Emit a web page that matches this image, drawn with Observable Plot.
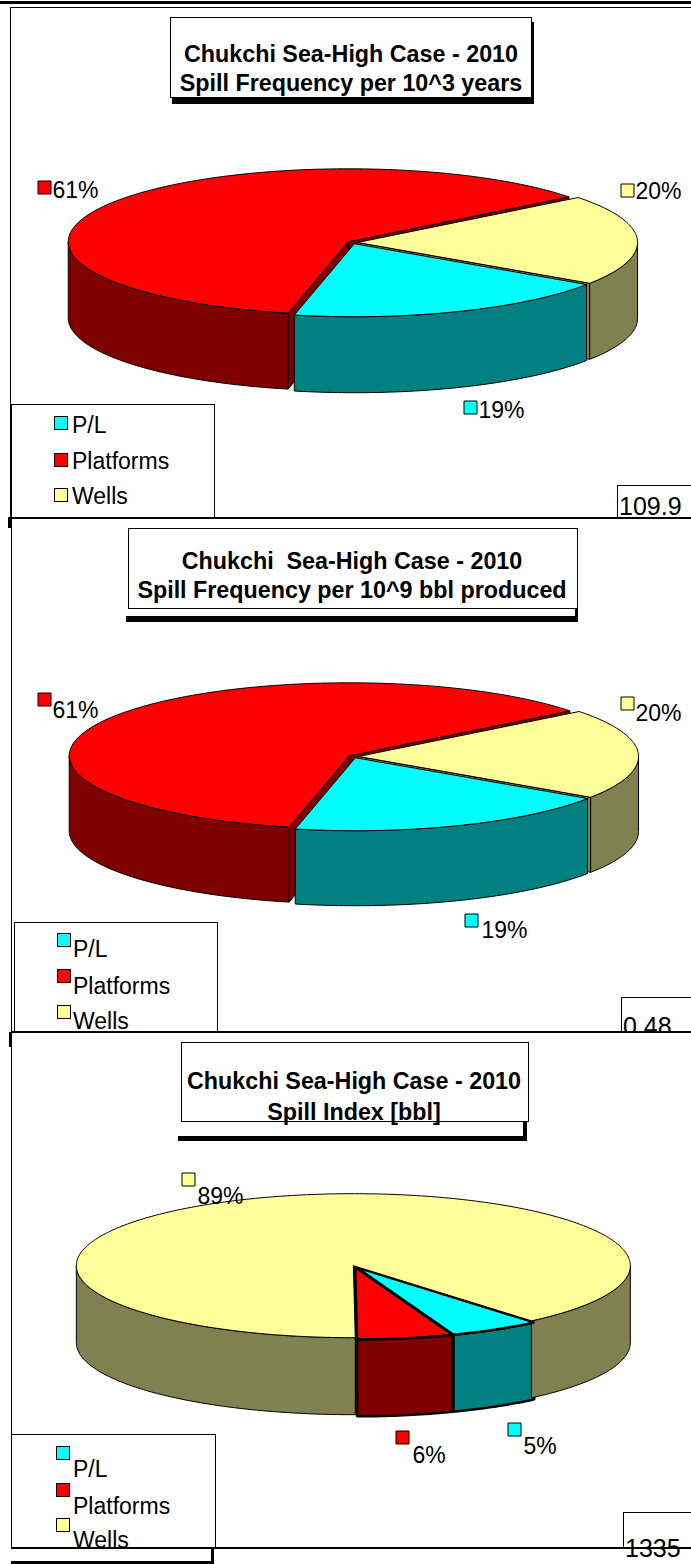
<!DOCTYPE html>
<html><head><meta charset="utf-8">
<script src="https://cdn.jsdelivr.net/npm/d3@7"></script>
<script src="https://cdn.jsdelivr.net/npm/@observablehq/plot@0.6"></script>
<style>
html,body{margin:0;padding:0;background:#fff}
#root{position:relative;width:691px;height:1564px;overflow:hidden;background:#fff}
.layer{position:absolute;left:0;}
</style>
</head><body><div id="root"></div>
<script>
// ---------------- DATA ----------------
const categories = ["P/L", "Platforms", "Wells"];
const freqPerYearsPct = [19, 61, 20];      // Spill frequency per 10^3 years (share %)
const freqPerBblPct = [19, 61, 20];        // Spill frequency per 10^9 bbl produced (share %)
const spillIndexPct = [5.4, 5.6, 89.0];    // Spill index [bbl] (share %)
const titleLines1 = ["Chukchi Sea-High Case - 2010", "Spill Frequency per 10^3 years"];
const titleLines2 = ["Chukchi  Sea-High Case - 2010", "Spill Frequency per 10^9 bbl produced"];
const titleLines3 = ["Chukchi Sea-High Case - 2010", "Spill Index [bbl]"];
const totals = ["109.9", "0.48", "1335"];

// ---------------- STYLE ----------------
const topColors = ["#00FFFF", "#FF0000", "#FFFF99"];
const sideColors = ["#008080", "#800000", "#808050"];
const FONT = "'Liberation Sans', Arial, Helvetica, sans-serif";

// ---------------- LAYOUT ----------------
const panels = [
  {
    values: freqPerYearsPct, title: titleLines1, total: totals[0], top: 0, height: 518,
    pie: {cx: 352, cy: 242, rx: 280, ry: 73, depth: 76, start: 124, explode: 0.018, sw: [1, 1, 1]},
    labels: [{mx: 463, my: 400, tx: 478, ty: 417}, {mx: 37, my: 180, tx: 52, ty: 197}, {mx: 620, my: 183, tx: 635, ty: 198}],
    titleBox: {x: 170, y: 17, w: 361, h: 80, cx: 351, base: [62, 91],
      shadow: [[172, 22, 362, 82]]},
    legend: {x: 11, y: 404, w: 203, h: 114, mx: 54, my: [416, 453, 488], tx: 72, ty: [433, 469, 504]},
    valueBox: {x: 617, y: 485, w: 90, h: 33, tx: 619, ty: 515},
    lines: [[0, 1, 691, 3], [10, 7, 681, 1], [10, 7, 1, 511], [10, 517, 681, 2], [8, 517, 3, 11]]
  },
  {
    values: freqPerBblPct, title: titleLines2, total: totals[1], top: 518, height: 515,
    pie: {cx: 353, cy: 756, rx: 280, ry: 73, depth: 75, start: 124, explode: 0.018, sw: [1, 1, 1]},
    labels: [{mx: 464, my: 913, tx: 481, ty: 937}, {mx: 37, my: 692, tx: 52, ty: 717}, {mx: 620, my: 696, tx: 635, ty: 720}],
    titleBox: {x: 128, y: 528, w: 449, h: 80, cx: 352, base: [569, 598],
      shadow: [[126, 616, 452, 6], [575, 608, 3, 14]]},
    legend: {x: 14, y: 922, w: 203, h: 110, mx: 57, my: [933, 969, 1005], tx: 73, ty: [957, 994, 1029]},
    valueBox: {x: 621, y: 997, w: 90, h: 36, tx: 623, ty: 1035},
    lines: [[11, 518, 1, 515], [11, 1031, 680, 2]]
  },
  {
    values: spillIndexPct, title: titleLines3, total: totals[2], top: 1033, height: 531,
    pie: {cx: 354, cy: 1266, rx: 277, ry: 72, depth: 77, start: 140, explode: 0.012, sw: [2.5, 2.5, 1]},
    labels: [{mx: 507, my: 1422, tx: 523, ty: 1453}, {mx: 395, my: 1430, tx: 412, ty: 1462}, {mx: 181, my: 1172, tx: 197, ty: 1203}],
    titleBox: {x: 181, y: 1042, w: 347, h: 79, cx: 354, base: [1089, 1120],
      shadow: [[178, 1136, 349, 5], [523, 1121, 4, 20]]},
    legend: {x: 11, y: 1434, w: 204, h: 114, mx: 56, my: [1446, 1483, 1518], tx: 73, ty: [1477, 1514, 1548]},
    valueBox: {x: 623, y: 1512, w: 90, h: 36, tx: 625, ty: 1557},
    lines: [[9, 1032, 3, 15], [11, 1033, 1, 515], [11, 1547, 680, 2], [11, 1561, 203, 3], [211, 1548, 3, 16]],
    cover: true
  }
];

// ---------------- GEOMETRY (from data) ----------------
const rad = a => a * Math.PI / 180;
function buildFaces(values, g) {
  const total = d3.sum(values);
  let acc = g.start;
  const slices = values.map((v, i) => {
    const a0 = acc, a1 = acc + v / total * 360; acc = a1;
    return {i, a0, a1, mid: (a0 + a1) / 2};
  });
  const pt = (s, ang, r, z) => {
    const ox = g.explode * Math.sin(rad(s.mid)), oy = -g.explode * Math.cos(rad(s.mid));
    return [g.cx + g.rx * (ox + r * Math.sin(rad(ang))), g.cy + g.ry * (oy - r * Math.cos(rad(ang))) + z];
  };
  const arc = (s, b0, b1, z) => {
    const n = Math.max(2, Math.ceil(Math.abs(b1 - b0)));
    return d3.range(n + 1).map(k => pt(s, b0 + (b1 - b0) * k / n, 1, z));
  };
  const radial = [], sides = [], tops = [];
  for (const s of slices) {
    const sw = g.sw[s.i];
    for (const [ang, nAng] of [[s.a0, s.a0 - 90], [s.a1, s.a1 + 90]]) {
      if (-Math.cos(rad(nAng)) > 1e-6) {
        const c0 = pt(s, ang, 0, 0), e0 = pt(s, ang, 1, 0);
        radial.push({pts: [c0, e0, [e0[0], e0[1] + g.depth], [c0[0], c0[1] + g.depth], c0],
          fill: sideColors[s.i], sw, key: (c0[1] + e0[1]) / 2});
      }
    }
    for (let k = -1; k <= 2; k++) {
      const lo = Math.max(s.a0, 90 + 360 * k), hi = Math.min(s.a1, 270 + 360 * k);
      if (hi > lo) {
        const t = arc(s, lo, hi, 0), b = arc(s, hi, lo, g.depth);
        sides.push({pts: [...t, ...b, t[0]], fill: sideColors[s.i], sw});
      }
    }
    const c = pt(s, 0, 0, 0);
    tops.push({pts: [c, ...arc(s, s.a0, s.a1, 0), c], fill: topColors[s.i], sw});
  }
  radial.sort((a, b) => a.key - b.key);
  return [...radial, ...sides, ...tops];
}

// ---------------- RENDER ----------------
const root = d3.select("#root");

function decoSvg() {
  return root.append("svg").attr("class", "layer").style("top", "0px")
    .attr("width", 691).attr("height", 1564);
}
function rectFill(sel, [x, y, w, h], fill = "#000") {
  sel.append("rect").attr("x", x).attr("y", y).attr("width", w).attr("height", h).attr("fill", fill);
}
function boxStroke(sel, x, y, w, h, sw = 1) {
  sel.append("rect").attr("x", x + 0.5).attr("y", y + 0.5).attr("width", w).attr("height", h)
    .attr("fill", "#fff").attr("stroke", "#000").attr("stroke-width", sw);
}

panels.forEach((p, pi) => {
  if (p.cover) {
    const cov = decoSvg();
    rectFill(cov, [0, p.top, 691, 1564 - p.top], "#fff");
  }
  // Pie chart via Plot
  const faces = buildFaces(p.values, p.pie);
  const total = d3.sum(p.values);
  const labelData = categories.map((c, i) => ({
    cat: c, color: topColors[i],
    mx: p.labels[i].mx + 7, my: p.labels[i].my + 7,
    tx: p.labels[i].tx, ty: p.labels[i].ty,
    label: Math.round(p.values[i] / total * 100) + "%"
  }));
  const marks = faces.map(f => Plot.line(f.pts, {
    x: d => d[0], y: d => d[1], fill: f.fill, stroke: "#000", strokeWidth: f.sw,
    strokeLinejoin: "miter", strokeLinecap: "butt"
  }));
  marks.push(Plot.dot(labelData, {x: "mx", y: "my", symbol: "square", r: 13 / Math.sqrt(Math.PI),
    fill: "color", stroke: "#000", strokeWidth: 1}));
  marks.push(Plot.text(labelData, {x: "tx", y: "ty", text: "label", textAnchor: "start", lineAnchor: "bottom",
    fontSize: 23, fontFamily: FONT, fill: "#000"}));
  const chart = Plot.plot({
    width: 691, height: p.height, margin: 0,
    x: {domain: [0, 691], range: [0, 691], axis: null},
    y: {domain: [p.top, p.top + p.height], range: [0, p.height], axis: null},
    color: {type: "identity"},
    style: {background: "none", overflow: "visible"},
    marks
  });
  const wrap = root.append("div").attr("class", "layer").style("top", p.top + "px");
  wrap.node().appendChild(chart);

  // Decorations
  const s = decoSvg();
  const tb = p.titleBox;
  tb.shadow.forEach(r => rectFill(s, r));
  boxStroke(s, tb.x, tb.y, tb.w, tb.h);
  p.title.forEach((t, k) => {
    s.append("text").attr("x", tb.cx).attr("y", tb.base[k])
      .attr("text-anchor", "middle").style("white-space", "pre")
      .attr("font-family", FONT).attr("font-weight", "bold").attr("font-size", 23.3)
      .attr("fill", "#000").text(t);
  });
  const lg = p.legend;
  boxStroke(s, lg.x, lg.y, lg.w, lg.h);
  categories.forEach((c, i) => {
    s.append("rect").attr("x", lg.mx + 0.5).attr("y", lg.my[i] + 0.5).attr("width", 13).attr("height", 13)
      .attr("fill", topColors[i]).attr("stroke", "#000");
    s.append("text").attr("x", lg.tx).attr("y", lg.ty[i]).attr("font-family", FONT)
      .attr("font-size", 23).attr("fill", "#000").text(c);
  });
  const vb = p.valueBox;
  boxStroke(s, vb.x, vb.y, vb.w, vb.h);
  s.append("text").attr("x", vb.tx).attr("y", vb.ty).attr("font-family", FONT)
    .attr("font-size", 25).attr("fill", "#000").text(p.total);
  p.lines.forEach(r => rectFill(s, r));
});
</script>
</body></html>
